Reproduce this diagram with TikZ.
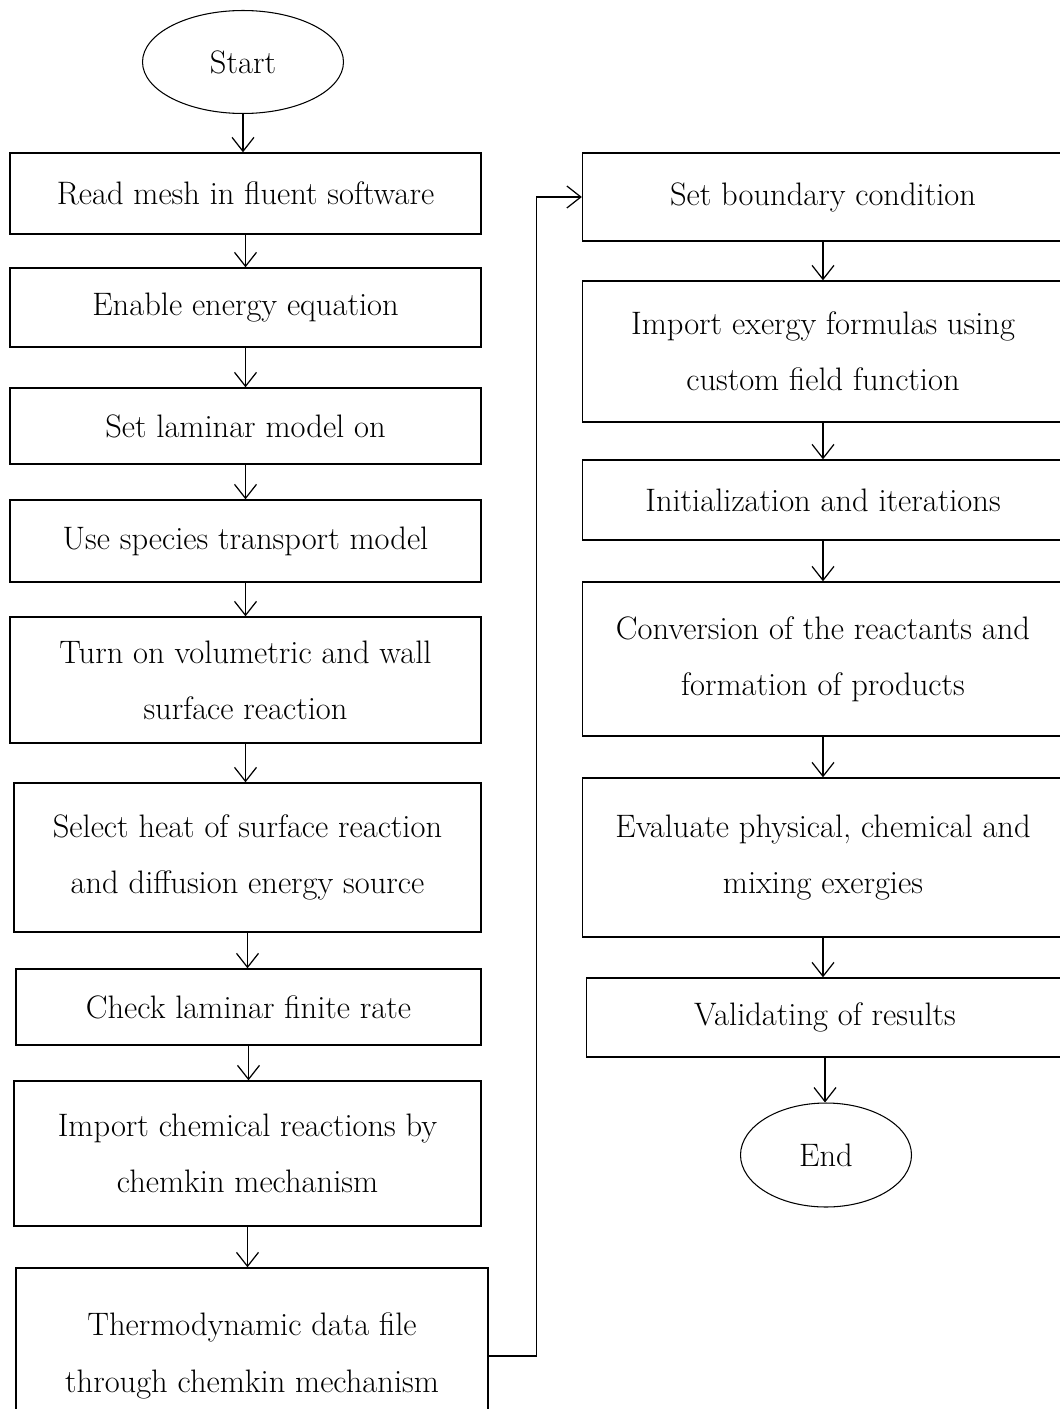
\documentclass[tikz,border=0pt]{standalone}
\usepackage{tikz}
\usetikzlibrary{arrows.meta,shapes.geometric,positioning}

\begin{document}
\begin{tikzpicture}[x=0.02cm, y=-0.02cm,
    box/.style={draw, line width=0.8pt, minimum width=9.42cm, align=center, inner sep=0pt, font=\fontsize{18.5}{32}\selectfont},
    rbox/.style={box, minimum width=9.62cm},
    term/.style={draw, ellipse, line width=0.6pt, inner sep=0pt, font=\fontsize{18.5}{32}\selectfont},
    arr/.style={-{Straight Barb[length=0.28cm, width=0.44cm]}, line width=0.7pt}
]
\useasboundingbox (0,0) rectangle (1060,1409);
\clip (0,0) rectangle (1060,1409);

% left column
\node[term, minimum width=4.02cm, minimum height=2.06cm] (start) at (243,62) {Start};
\node[box, minimum height=1.62cm] (mesh) at (245.5,193.5) {Read mesh in fluent software};
\node[box, minimum height=1.58cm] (energy) at (245.5,307.5) {Enable energy equation};
\node[box, minimum height=1.52cm] (laminar) at (245.5,426) {Set laminar model on};
\node[box, minimum height=1.64cm] (species) at (245.5,541) {Use species transport model};
\node[box, minimum height=2.52cm] (react) at (245.5,680) {Turn on volumetric and wall\\surface reaction};
\node[box, minimum width=9.34cm, minimum height=2.98cm] (heat) at (247.5,857.5) {Select heat of surface reaction\\and diffusion energy source};
\node[box, minimum width=9.30cm, minimum height=1.52cm] (rate) at (248.5,1007) {Check laminar finite rate};
\node[box, minimum width=9.34cm, minimum height=2.90cm] (chem) at (247.5,1153.5) {Import chemical reactions by\\chemkin mechanism};
\node[box, minimum width=9.44cm, minimum height=3.52cm] (thermo) at (252,1356) {Thermodynamic data file\\through chemkin mechanism};

% right column
\node[rbox, minimum height=1.76cm] (bound) at (823,197) {Set boundary condition};
\node[rbox, minimum height=2.82cm] (exergy) at (823,351.5) {Import exergy formulas using\\custom field function};
\node[rbox, minimum height=1.60cm] (init) at (823,500) {Initialization and iterations};
\node[rbox, minimum height=3.08cm] (conv) at (823,659) {Conversion of the reactants and\\formation of products};
\node[rbox, minimum height=3.18cm] (eval) at (823,857.5) {Evaluate physical, chemical and\\mixing exergies};
\node[rbox, minimum width=9.54cm, minimum height=1.58cm] (valid) at (825,1017.5) {Validating of results};
\node[term, minimum width=3.42cm, minimum height=2.08cm] (end) at (826,1155) {End};

\draw[arr] (start.south) -- (start.south |- mesh.north);
\draw[arr] (mesh.south) -- (mesh.south |- energy.north);
\draw[arr] (energy.south) -- (energy.south |- laminar.north);
\draw[arr] (laminar.south) -- (laminar.south |- species.north);
\draw[arr] (species.south) -- (species.south |- react.north);
\draw[arr] (react.south) -- (react.south |- heat.north);
\draw[arr] (heat.south) -- (heat.south |- rate.north);
\draw[arr] (rate.south) -- (rate.south |- chem.north);
\draw[arr] (chem.south) -- (chem.south |- thermo.north);
\draw[arr] (thermo.east) -- ++(48,0) |- (bound.west);
\draw[arr] (bound.south) -- (bound.south |- exergy.north);
\draw[arr] (exergy.south) -- (exergy.south |- init.north);
\draw[arr] (init.south) -- (init.south |- conv.north);
\draw[arr] (conv.south) -- (conv.south |- eval.north);
\draw[arr] (eval.south) -- (eval.south |- valid.north);
\draw[arr] (valid.south) -- (valid.south |- end.north);
\end{tikzpicture}
\end{document}
